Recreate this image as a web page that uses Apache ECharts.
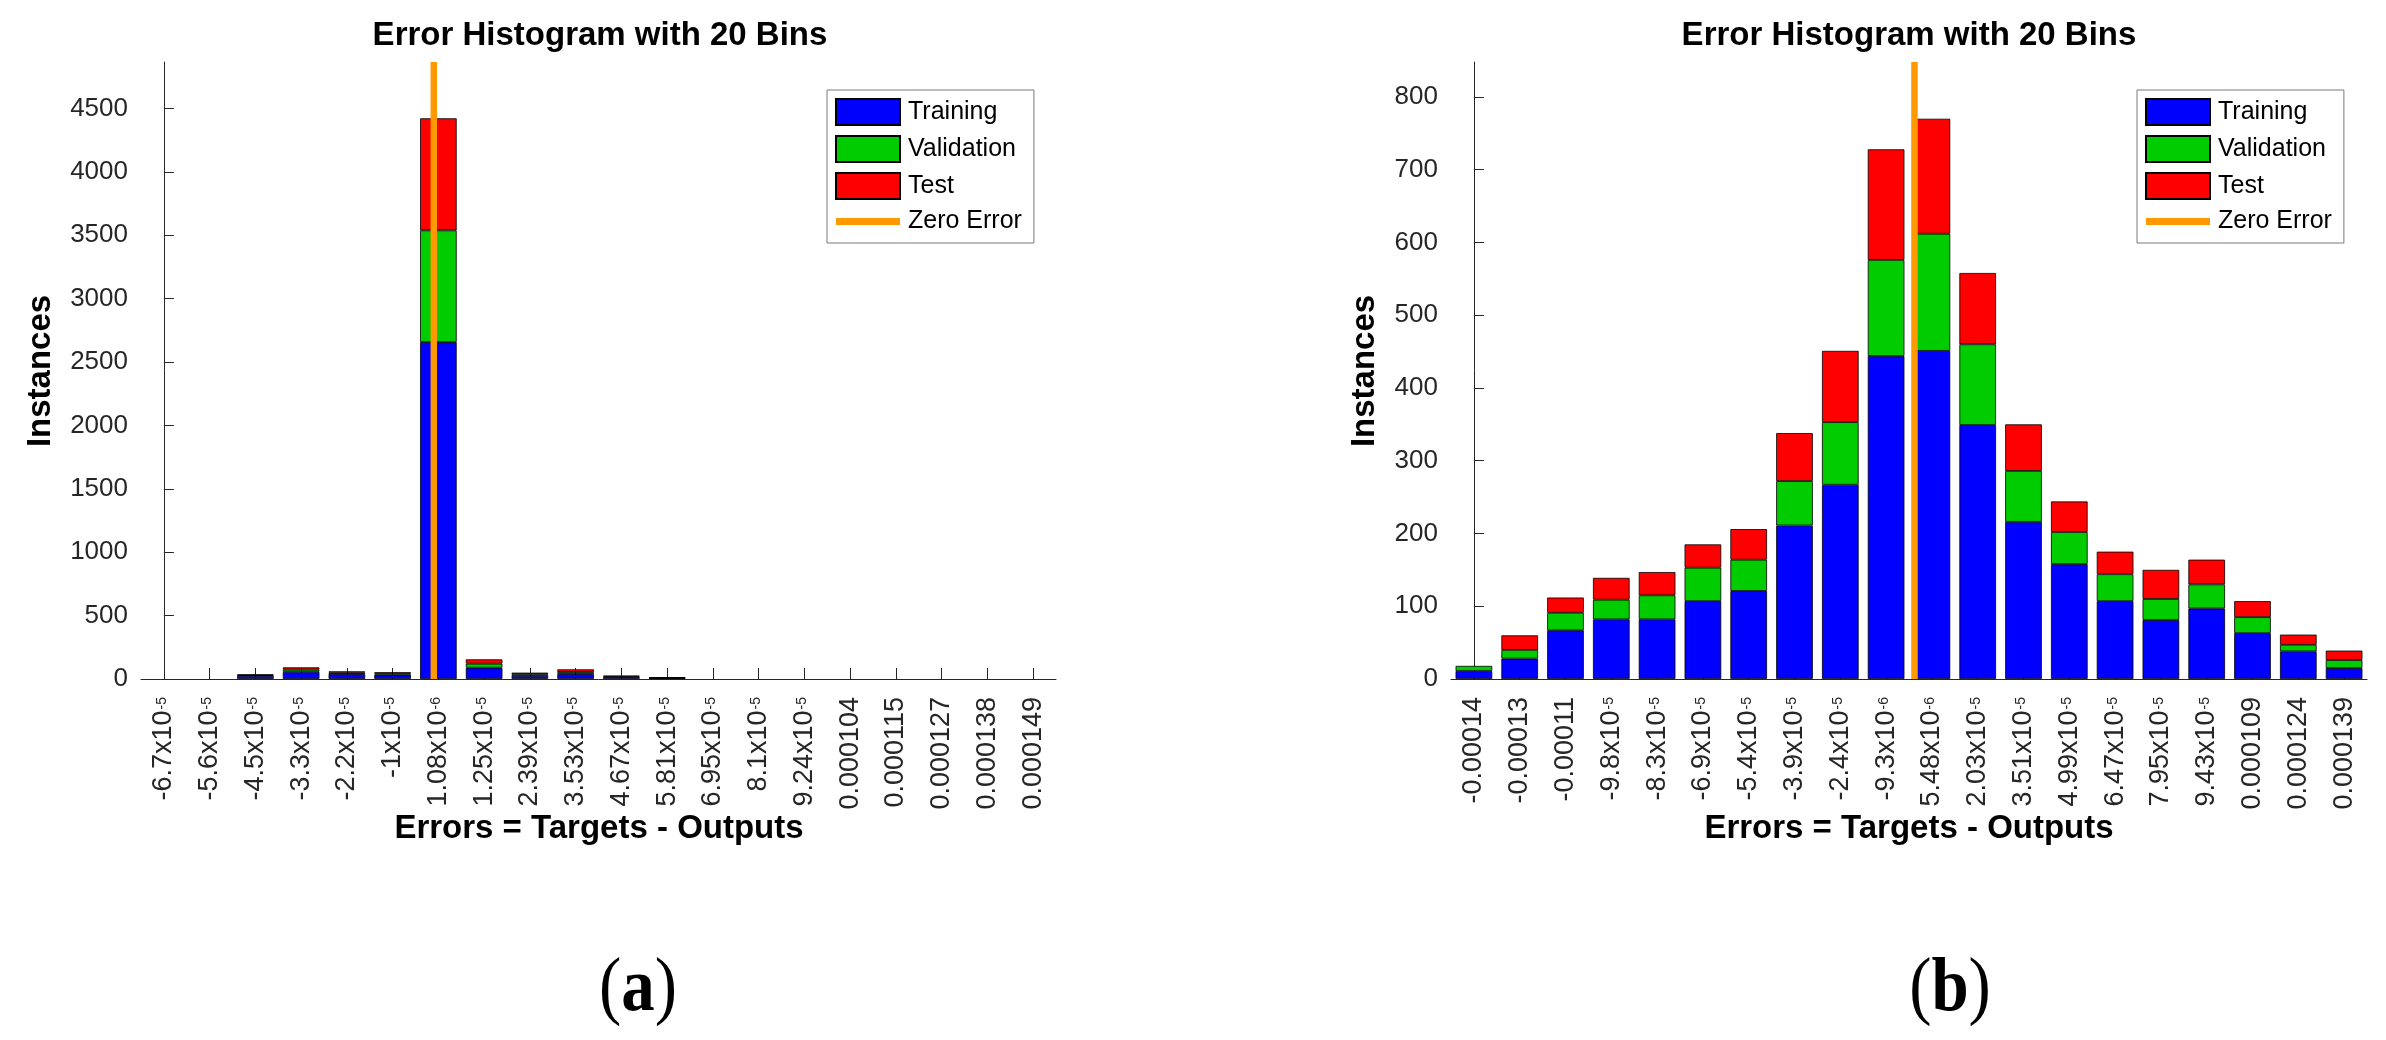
<!DOCTYPE html>
<html>
<head>
<meta charset="utf-8">
<script src="https://cdn.jsdelivr.net/npm/echarts@6/dist/echarts.min.js"></script>
<style>
html,body{margin:0;padding:0;background:#fff;}
#chart{width:2386px;height:1040px;}
</style>
</head>
<body>
<div id="chart"></div>
<script>
// ---------- Panel (a) ----------
const binLabelsA = ['-6.7x10^-5','-5.6x10^-5','-4.5x10^-5','-3.3x10^-5','-2.2x10^-5','-1x10^-5','1.08x10^-6','1.25x10^-5','2.39x10^-5','3.53x10^-5','4.67x10^-5','5.81x10^-5','6.95x10^-5','8.1x10^-5','9.24x10^-5','0.000104','0.000115','0.000127','0.000138','0.000149'];
const trainingA   = [0,0,25,57,40,35,2657,89,25,40,14,7,0,0,0,0,0,0,0,0];
const validationA = [0,0,5,17,10,9,881,32,12,15,6,3,0,0,0,0,0,0,0,0];
const testA       = [0,0,7,18,10,9,884,34,13,21,6,3,0,0,0,0,0,0,0,0];
const zeroErrorBinA = 5.9;          // zero-error position, in bin units
const yTicksA = [0,500,1000,1500,2000,2500,3000,3500,4000,4500];
const yMaxA = 4866;

// ---------- Panel (b) ----------
const binLabelsB = ['-0.00014','-0.00013','-0.00011','-9.8x10^-5','-8.3x10^-5','-6.9x10^-5','-5.4x10^-5','-3.9x10^-5','-2.4x10^-5','-9.3x10^-6','5.48x10^-6','2.03x10^-5','3.51x10^-5','4.99x10^-5','6.47x10^-5','7.95x10^-5','9.43x10^-5','0.000109','0.000124','0.000139'];
const trainingB   = [11,28,67,82,82,107,121,211,267,444,451,349,216,158,107,81,97,63,38,15];
const validationB = [7,12,24,27,33,46,43,61,86,132,161,111,70,44,37,29,33,22,9,11];
const testB       = [0,20,21,30,32,32,42,66,98,152,158,98,64,42,31,40,34,22,14,13];
const zeroErrorBinB = 9.62;
const yTicksB = [0,100,200,300,400,500,600,700,800];
const yMaxB = 848;

const seriesNames = ['Training','Validation','Test','Zero Error'];
const panelTitle = 'Error Histogram with 20 Bins';
const xTitle = 'Errors = Targets - Outputs';
const yTitle = 'Instances';
const panelTags = ['a','b'];

// ---------- styling ----------
const AX = '#262626';
const FONT = 'Liberation Sans, Arial, Helvetica, sans-serif';
const COLORS = {Training:'#0000FF', Validation:'#00CC00', Test:'#FF0000', 'Zero Error':'#FF9900'};

const grids = [
  {left:141, top:62, width:915, height:617},
  {left:1451, top:62, width:916, height:617}
];

function tickFormatter(v){
  const i = v.indexOf('^');
  if (i < 0) return v;
  return v.slice(0,i) + '{s|' + v.slice(i+1) + '}';
}

function catAxis(gridIndex, labels){
  return {
    type:'category', gridIndex, data: labels, boundaryGap:true,
    axisLine:{show:true, lineStyle:{color:AX, width:1}},
    axisTick:{show:true, inside:true, length:11, alignWithLabel:true, interval:0, lineStyle:{color:AX, width:1}},
    axisLabel:{
      interval:0, rotate:90, margin:18, color:AX, fontFamily:FONT, fontSize:27, lineHeight:27,
      formatter: tickFormatter,
      rich:{ s:{fontSize:14, lineHeight:14, color:AX, fontFamily:FONT, verticalAlign:'middle', padding:[0,0,4,1]} }
    },
    splitLine:{show:false}
  };
}
function hiddenValueX(gridIndex){
  return {type:'value', gridIndex, min:-0.5, max:19.5, show:false, splitLine:{show:false}};
}
function valAxis(gridIndex, ticks, max){
  return {
    type:'value', gridIndex, min:0, max:max, interval: ticks[1]-ticks[0],
    axisLine:{show:true, lineStyle:{color:AX, width:1}},
    axisTick:{show:true, inside:true, length:10, lineStyle:{color:AX, width:1}, customValues: ticks},
    axisLabel:{color:AX, fontFamily:FONT, fontSize:26, margin:13, customValues: ticks,
               formatter: v => String(v)},
    splitLine:{show:false}
  };
}

// empty bins draw nothing (no zero-height outline on the axis)
const drawable = arr => arr.map(v => (v === 0 ? null : v));

function barSeries(name, data, xi, yi, stack){
  return {
    name, type:'bar', xAxisIndex:xi, yAxisIndex:yi, stack, data: drawable(data), barWidth:'80%',
    itemStyle:{color:COLORS[name], borderColor:'#000', borderWidth:0.8},
    emphasis:{disabled:true}, silent:true
  };
}
function zeroLine(pos, max, xi, yi){
  return {
    name:'Zero Error', type:'line', xAxisIndex:xi, yAxisIndex:yi,
    data:[[pos,0],[pos,max]], symbol:'none', z:10, silent:true,
    lineStyle:{color:COLORS['Zero Error'], width:6.5, cap:'butt'},
    itemStyle:{color:COLORS['Zero Error']}
  };
}

function legendFor(left){
  return {
    orient:'vertical', left:left, top:90, selectedMode:false,
    itemWidth:64, itemHeight:26, itemGap:9,
    padding:[8,12,9,8], borderColor:'#7a7a7a', borderWidth:1, backgroundColor:'#fff',
    textStyle:{fontFamily:FONT, fontSize:25, color:'#000', padding:[0,0,0,3]},
    data:[
      {name:'Training', icon:'rect'},
      {name:'Validation', icon:'rect'},
      {name:'Test', icon:'rect'},
      {name:'Zero Error', icon:'path://M0,0H64V7H0Z', itemStyle:{color:COLORS['Zero Error'], borderWidth:0}}
    ]
  };
}

function txt(x, y, text, font, rot){
  return {
    type:'text', x, y, rotation: rot||0, silent:true,
    style:{text, font, fill:'#000', align:'center', verticalAlign:'middle', textAlign:'center', textVerticalAlign:'middle'}
  };
}

function tag(x, y, letter){
  return {
    type:'text', x, y, scaleX:0.88, scaleY:1, silent:true,
    style:{
      text:'{p|(}{b|' + letter + '}{p|)}',
      align:'center', verticalAlign:'middle', textAlign:'center', textVerticalAlign:'middle',
      rich:{
        p:{fontFamily:'Liberation Serif, Times New Roman, serif', fontSize:76, fill:'#000', color:'#000'},
        b:{fontFamily:'Liberation Serif, Times New Roman, serif', fontSize:76, fontWeight:'bold', fill:'#000', color:'#000'}
      }
    }
  };
}

const chart = echarts.init(document.getElementById('chart'), null, {renderer:'canvas'});
chart.setOption({
  animation:false,
  backgroundColor:'#fff',
  grid: grids.map(g => Object.assign({containLabel:false, outerBoundsMode:'none'}, g)),
  xAxis:[catAxis(0, binLabelsA), hiddenValueX(0), catAxis(1, binLabelsB), hiddenValueX(1)],
  yAxis:[valAxis(0, yTicksA, yMaxA), valAxis(1, yTicksB, yMaxB)],
  legend:[legendFor(827), legendFor(2137)],
  series:[
    barSeries('Training', trainingA, 0, 0, 'A'),
    barSeries('Validation', validationA, 0, 0, 'A'),
    barSeries('Test', testA, 0, 0, 'A'),
    zeroLine(zeroErrorBinA, yMaxA, 1, 0),
    barSeries('Training', trainingB, 2, 1, 'B'),
    barSeries('Validation', validationB, 2, 1, 'B'),
    barSeries('Test', testB, 2, 1, 'B'),
    zeroLine(zeroErrorBinB, yMaxB, 3, 1)
  ],
  graphic:[
    txt(600, 36, panelTitle, 'bold 33px ' + FONT),
    txt(1909, 36, panelTitle, 'bold 33px ' + FONT),
    txt(599, 829, xTitle, 'bold 33px ' + FONT),
    txt(1909, 829, xTitle, 'bold 33px ' + FONT),
    txt(41, 371, yTitle, 'bold 33px ' + FONT, Math.PI/2),
    txt(1365, 371, yTitle, 'bold 33px ' + FONT, Math.PI/2),
    tag(638, 990, panelTags[0]),
    tag(1950, 990, panelTags[1])
  ]
});
</script>
</body>
</html>
